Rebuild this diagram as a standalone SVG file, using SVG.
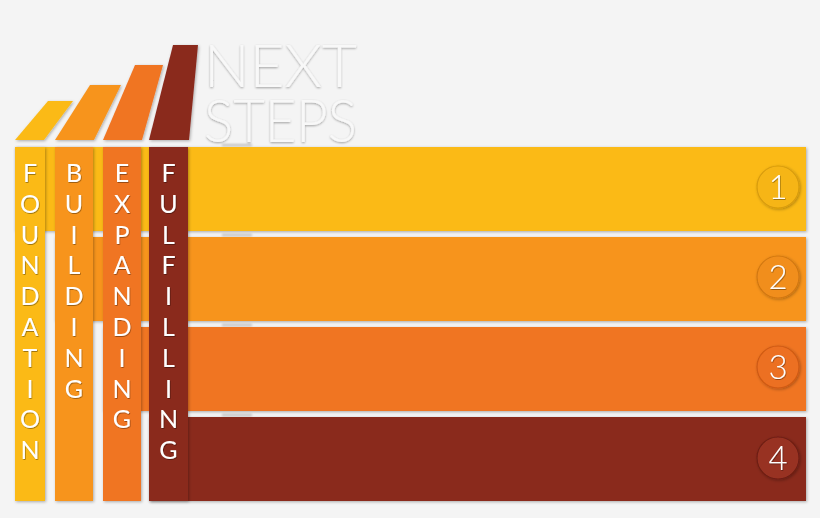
<svg xmlns="http://www.w3.org/2000/svg" width="820" height="518" viewBox="0 0 820 518">
  <defs>
    <filter id="sh" x="-10%" y="-10%" width="130%" height="130%">
      <feDropShadow dx="1" dy="1" stdDeviation="1.5" flood-color="#000" flood-opacity="0.3"/>
    </filter>
    <filter id="tsh" x="-20%" y="-20%" width="140%" height="140%">
      <feDropShadow dx="0.6" dy="0.8" stdDeviation="0.6" flood-color="#000" flood-opacity="0.45"/>
    </filter>
    <filter id="emb" x="-10%" y="-10%" width="120%" height="130%">
      <feDropShadow dx="0" dy="1" stdDeviation="0.8" flood-color="#000" flood-opacity="0.35"/>
    </filter>
    <filter id="blur"><feGaussianBlur stdDeviation="1"/></filter>
  </defs>
  <style>
    .c1{fill:#FBBA18}.c2{fill:#F7941F}.c3{fill:#F07423}.c4{fill:#8A291E}
    .let{font-family:Lato,"Open Sans","Liberation Sans",sans-serif;font-weight:400;font-size:25px;fill:#fff;text-anchor:middle}
    .num{font-family:Lato,"Open Sans","Liberation Sans",sans-serif;font-weight:300;font-size:33px;fill:#fff;text-anchor:middle}
    .title{font-family:Lato,"Open Sans","Liberation Sans",sans-serif;font-weight:300;font-size:60px;fill:#f8f8f8}
    .ring{stroke-width:1.2}
  </style>
  <rect width="820" height="518" fill="#f4f4f4"/>

  <!-- faint shadow dashes -->
  <g fill="#bdbdbd" filter="url(#blur)">
    <rect x="222" y="144" width="30" height="2"/>
    <rect x="222" y="234" width="30" height="2"/>
    <rect x="222" y="324" width="30" height="2"/>
    <rect x="222" y="414" width="30" height="2"/>
  </g>

  <!-- title -->
  <g id="title" filter="url(#emb)">
    <text class="title"><tspan x="204" y="87" textLength="153" lengthAdjust="spacingAndGlyphs">NEXT</tspan><tspan x="204" y="142" textLength="153" lengthAdjust="spacingAndGlyphs">STEPS</tspan></text>
  </g>

  <!-- horizontal bars -->
  <g id="bar1" filter="url(#sh)"><rect class="c1" x="15" y="147" width="791" height="84"/></g>
  <g id="bar2" filter="url(#sh)"><rect class="c2" x="55" y="237" width="751" height="84"/></g>
  <g id="bar3" filter="url(#sh)"><rect class="c3" x="103" y="327" width="703" height="84"/></g>
  <g id="bar4" filter="url(#sh)"><rect class="c4" x="149" y="417" width="657" height="84"/></g>

  <!-- column tops -->
  <g id="top1" filter="url(#sh)"><polygon class="c1" points="15,140 44,140 73,101 48,101"/></g>
  <g id="top2" filter="url(#sh)"><polygon class="c2" points="55,140 94,140 121,85 90,85"/></g>
  <g id="top3" filter="url(#sh)"><polygon class="c3" points="103,140 142,140 163,65 135,65"/></g>
  <g id="top4" filter="url(#sh)"><polygon class="c4" points="149,140 189,140 198,45 173,45"/></g>

  <!-- columns -->
  <g id="col1">
    <rect class="c1" x="15" y="147" width="30" height="354" filter="url(#sh)"/>
    <g filter="url(#tsh)">
      <text class="let" x="30" y="182">F</text>
      <text class="let" x="30" y="212.8">O</text>
      <text class="let" x="30" y="243.6">U</text>
      <text class="let" x="30" y="274.4">N</text>
      <text class="let" x="30" y="305.2">D</text>
      <text class="let" x="30" y="336">A</text>
      <text class="let" x="30" y="366.8">T</text>
      <text class="let" x="30" y="397.6">I</text>
      <text class="let" x="30" y="428.4">O</text>
      <text class="let" x="30" y="459.2">N</text>
    </g>
  </g>
  <g id="col2">
    <rect class="c2" x="55" y="147" width="38" height="354" filter="url(#sh)"/>
    <g filter="url(#tsh)">
      <text class="let" x="74" y="182">B</text>
      <text class="let" x="74" y="212.8">U</text>
      <text class="let" x="74" y="243.6">I</text>
      <text class="let" x="74" y="274.4">L</text>
      <text class="let" x="74" y="305.2">D</text>
      <text class="let" x="74" y="336">I</text>
      <text class="let" x="74" y="366.8">N</text>
      <text class="let" x="74" y="397.6">G</text>
    </g>
  </g>
  <g id="col3">
    <rect class="c3" x="103" y="147" width="38" height="354" filter="url(#sh)"/>
    <g filter="url(#tsh)">
      <text class="let" x="122" y="182">E</text>
      <text class="let" x="122" y="212.8">X</text>
      <text class="let" x="122" y="243.6">P</text>
      <text class="let" x="122" y="274.4">A</text>
      <text class="let" x="122" y="305.2">N</text>
      <text class="let" x="122" y="336">D</text>
      <text class="let" x="122" y="366.8">I</text>
      <text class="let" x="122" y="397.6">N</text>
      <text class="let" x="122" y="428.4">G</text>
    </g>
  </g>
  <g id="col4">
    <rect class="c4" x="149" y="147" width="39" height="354" filter="url(#sh)"/>
    <g filter="url(#tsh)">
      <text class="let" x="168.5" y="182">F</text>
      <text class="let" x="168.5" y="212.8">U</text>
      <text class="let" x="168.5" y="243.6">L</text>
      <text class="let" x="168.5" y="274.4">F</text>
      <text class="let" x="168.5" y="305.2">I</text>
      <text class="let" x="168.5" y="336">L</text>
      <text class="let" x="168.5" y="366.8">L</text>
      <text class="let" x="168.5" y="397.6">I</text>
      <text class="let" x="168.5" y="428.4">N</text>
      <text class="let" x="168.5" y="459.2">G</text>
    </g>
  </g>

  <!-- number circles -->
  <g id="num1">
    <circle class="ring" cx="778" cy="187" r="21" fill="#F6B516" stroke="#D89C0E" filter="url(#sh)"/>
    <text class="num" x="778" y="199" filter="url(#tsh)">1</text>
  </g>
  <g id="num2">
    <circle class="ring" cx="778" cy="277" r="21" fill="#F18E1C" stroke="#D27812" filter="url(#sh)"/>
    <text class="num" x="778" y="289" filter="url(#tsh)">2</text>
  </g>
  <g id="num3">
    <circle class="ring" cx="778" cy="367" r="21" fill="#EC6F20" stroke="#CE5A14" filter="url(#sh)"/>
    <text class="num" x="778" y="379" filter="url(#tsh)">3</text>
  </g>
  <g id="num4">
    <circle class="ring" cx="778" cy="458" r="21" fill="#983322" stroke="#6E1E14" filter="url(#sh)"/>
    <text class="num" x="778" y="470" filter="url(#tsh)">4</text>
  </g>
</svg>
